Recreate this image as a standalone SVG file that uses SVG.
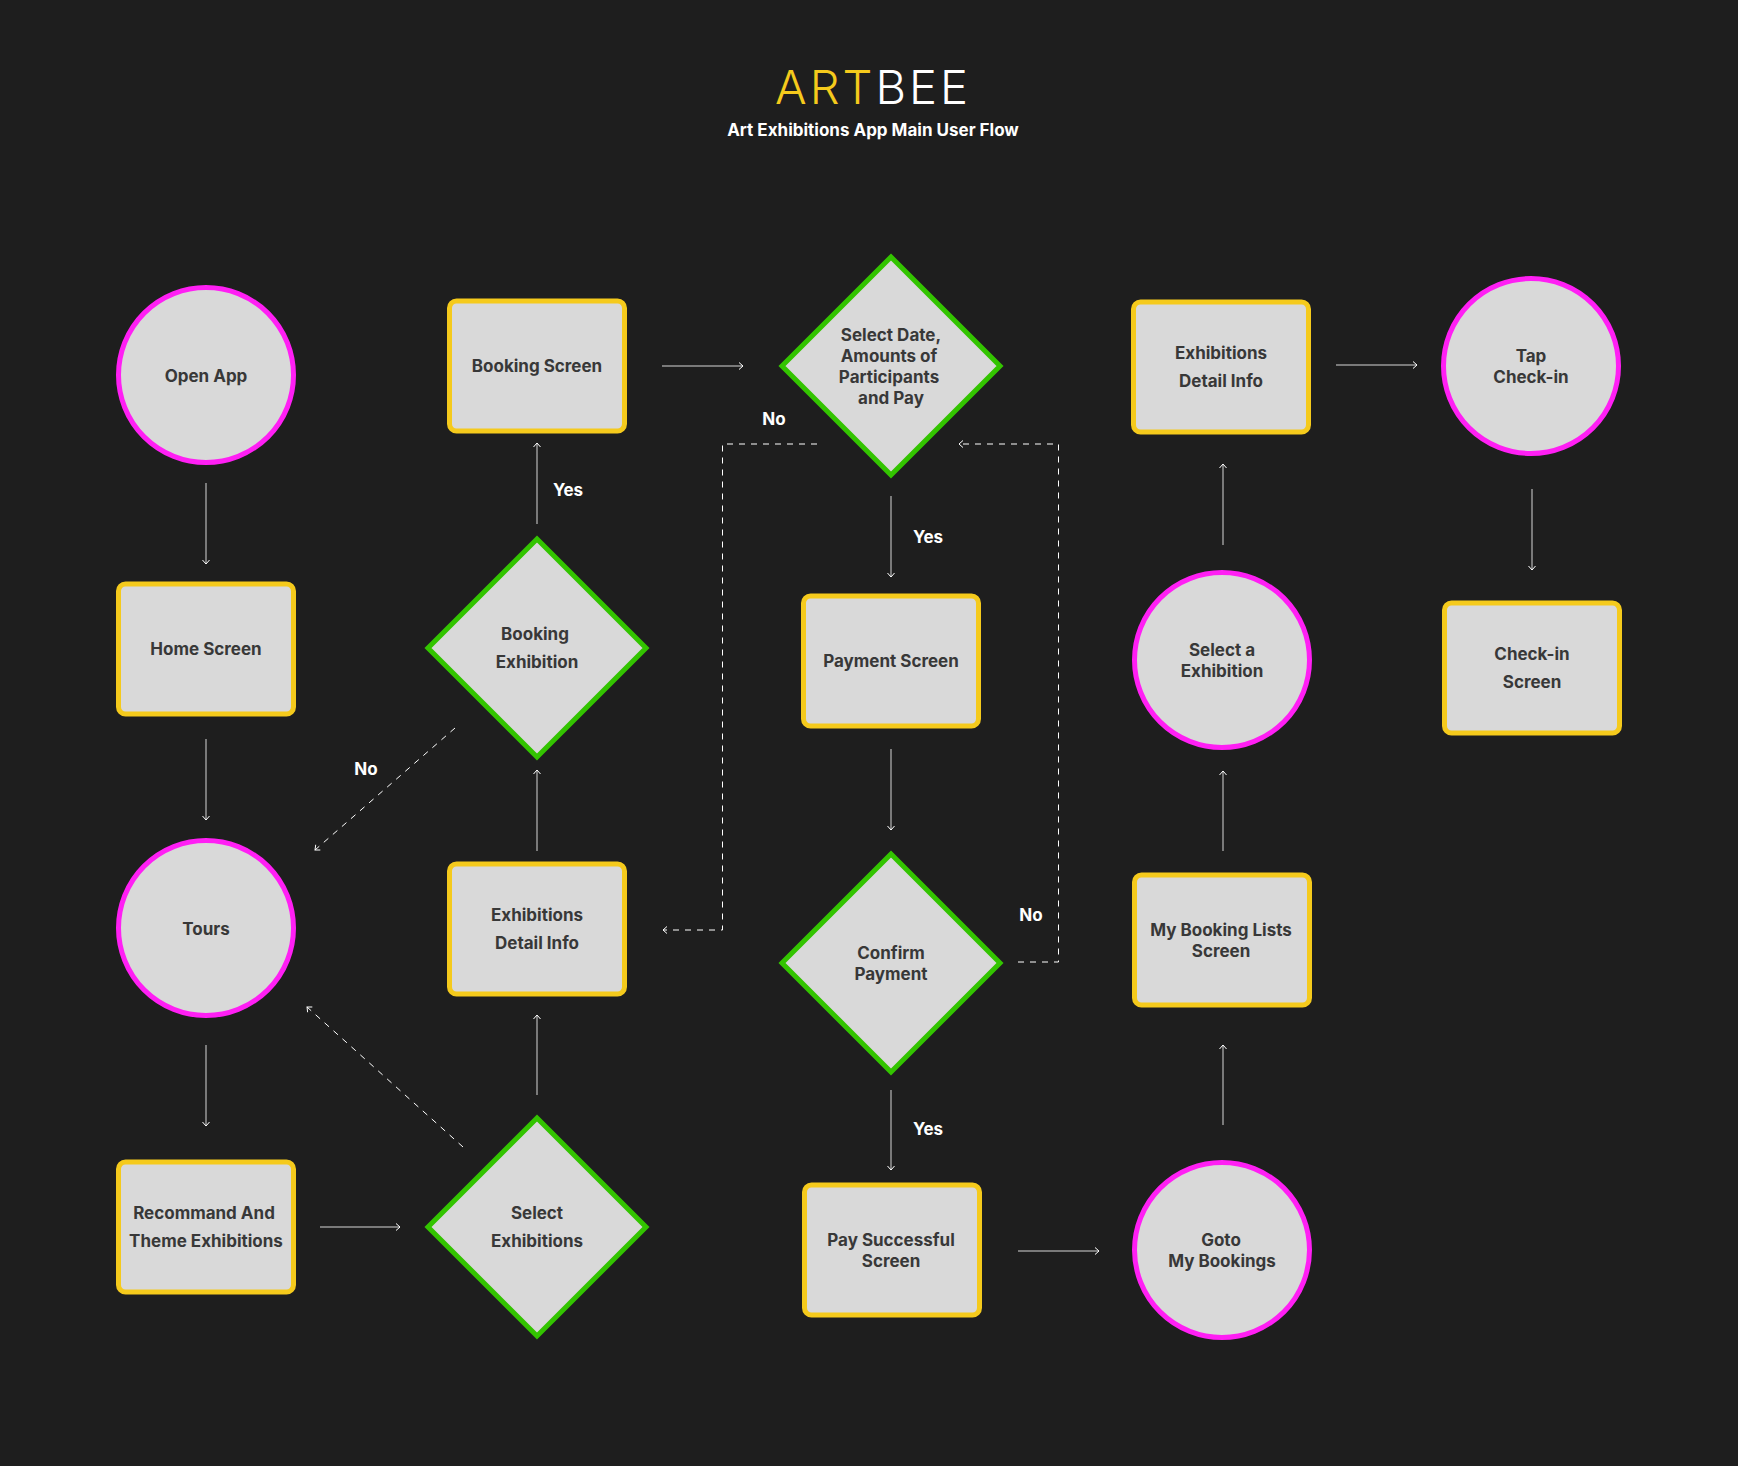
<svg xmlns="http://www.w3.org/2000/svg" width="1738" height="1466" viewBox="0 0 1738 1466">
<style>
text{font-family:Inter,"Noto Sans","Liberation Sans",sans-serif;font-weight:700;font-size:17px;text-anchor:middle}
.n text{fill:#383838}
.c{fill:#d9d9d9;stroke:#ff1ff4;stroke-width:5}
.r{fill:#d9d9d9;stroke:#f5ca1c;stroke-width:5}
.d{fill:#d9d9d9;stroke:#33c400;stroke-width:5}
.l{fill:#ffffff}
.a{fill:none;stroke:#9a9a9a;stroke-width:1.5;marker-end:url(#ah)}
.b{fill:none;stroke:#ffffff;stroke-width:1;stroke-dasharray:6 6;marker-end:url(#ah)}
</style>
<defs>
<marker id="ah" markerUnits="userSpaceOnUse" markerWidth="12" markerHeight="12" refX="9" refY="6" orient="auto"><path d="M5 2.5L9 6L5 9.5" fill="none" stroke="#ffffff" stroke-width="1"/></marker>
</defs>
<rect width="1738" height="1466" fill="#1e1e1e"/>
<g id="title">
<text x="873" y="104" style="font-size:47px;font-weight:300;letter-spacing:3px"><tspan fill="#f5ca1c">ART</tspan><tspan fill="#ffffff">BEE</tspan></text>
<text x="873" y="136" class="l">Art Exhibitions App Main User Flow</text>
</g>
<g id="connectors">
<path class="a" d="M206 483V564"/>
<path class="a" d="M206 739V820"/>
<path class="a" d="M206 1045V1126"/>
<path class="a" d="M320 1227H400"/>
<path class="a" d="M537 1095V1015"/>
<path class="a" d="M537 851V770"/>
<path class="a" d="M537 524V443"/>
<path class="a" d="M662 366H743"/>
<path class="a" d="M891 496V577"/>
<path class="a" d="M891 749V830"/>
<path class="a" d="M891 1090V1170"/>
<path class="a" d="M1018 1251H1099"/>
<path class="a" d="M1223 1125V1045"/>
<path class="a" d="M1223 851V771"/>
<path class="a" d="M1223 545V464"/>
<path class="a" d="M1336 365H1417"/>
<path class="a" d="M1532 489V570"/>
<path class="b" d="M455 728L315 850"/>
<path class="b" d="M463 1147L307 1007"/>
<path class="b" d="M817 444H722.500V930H663"/>
<path class="b" d="M1018 962H1058.500V444H959"/>
</g>
<g id="labels">
<text class="l" x="568" y="496">Yes</text>
<text class="l" x="366" y="775">No</text>
<text class="l" x="774" y="425">No</text>
<text class="l" x="928" y="543">Yes</text>
<text class="l" x="928" y="1135">Yes</text>
<text class="l" x="1031" y="921">No</text>
</g>
<g id="open-app" class="n"><circle class="c" cx="206" cy="375" r="87.500"/><text x="206" y="382">Open App</text></g>
<g id="home-screen" class="n"><rect class="r" x="118.500" y="584" width="175" height="130" rx="7"/><text x="206" y="655">Home Screen</text></g>
<g id="tours" class="n"><circle class="c" cx="206" cy="928" r="87.500"/><text x="206" y="935">Tours</text></g>
<g id="recommand" class="n"><rect class="r" x="118.500" y="1162" width="175" height="130" rx="7"/><text x="204" y="1219">Recommand And</text><text x="206" y="1247">Theme Exhibitions</text></g>
<g id="booking-screen" class="n"><rect class="r" x="449.500" y="301" width="175" height="130" rx="7"/><text x="537" y="372">Booking Screen</text></g>
<g id="booking-exhibition" class="n"><polygon class="d" points="537,539 646,648 537,757 428,648"/><text x="535" y="640">Booking</text><text x="537" y="668">Exhibition</text></g>
<g id="exhibitions-detail-left" class="n"><rect class="r" x="449.500" y="864" width="175" height="130" rx="7"/><text x="537" y="921">Exhibitions</text><text x="537" y="949">Detail Info</text></g>
<g id="select-exhibitions" class="n"><polygon class="d" points="537,1118 646,1227 537,1336 428,1227"/><text x="537" y="1219">Select</text><text x="537" y="1247">Exhibitions</text></g>
<g id="select-date" class="n"><polygon class="d" points="891,257 1000,366 891,475 782,366"/><text x="891" y="341">Select Date,</text><text x="889" y="362">Amounts of</text><text x="889" y="383">Participants</text><text x="891" y="404">and Pay</text></g>
<g id="payment-screen" class="n"><rect class="r" x="803.500" y="596" width="175" height="130" rx="7"/><text x="891" y="667">Payment Screen</text></g>
<g id="confirm-payment" class="n"><polygon class="d" points="891,854 1000,963 891,1072 782,963"/><text x="891" y="959">Confirm</text><text x="891" y="980">Payment</text></g>
<g id="pay-successful" class="n"><rect class="r" x="804.500" y="1185" width="175" height="130" rx="7"/><text x="891" y="1246">Pay Successful</text><text x="891" y="1267">Screen</text></g>
<g id="goto-bookings" class="n"><circle class="c" cx="1222" cy="1250" r="87.500"/><text x="1221" y="1246">Goto</text><text x="1222" y="1267">My Bookings</text></g>
<g id="my-booking-lists" class="n"><rect class="r" x="1134.500" y="875" width="175" height="130" rx="7"/><text x="1221" y="936">My Booking Lists</text><text x="1221" y="957">Screen</text></g>
<g id="select-a-exhibition" class="n"><circle class="c" cx="1222" cy="660" r="87.500"/><text x="1222" y="656">Select a</text><text x="1222" y="677">Exhibition</text></g>
<g id="exhibitions-detail-right" class="n"><rect class="r" x="1133.500" y="302" width="175" height="130" rx="7"/><text x="1221" y="359">Exhibitions</text><text x="1221" y="387">Detail Info</text></g>
<g id="tap-check-in" class="n"><circle class="c" cx="1531" cy="366" r="87.500"/><text x="1531" y="362">Tap</text><text x="1531" y="383">Check-in</text></g>
<g id="check-in-screen" class="n"><rect class="r" x="1444.500" y="603" width="175" height="130" rx="7"/><text x="1532" y="660">Check-in</text><text x="1532" y="688">Screen</text></g>
</svg>
